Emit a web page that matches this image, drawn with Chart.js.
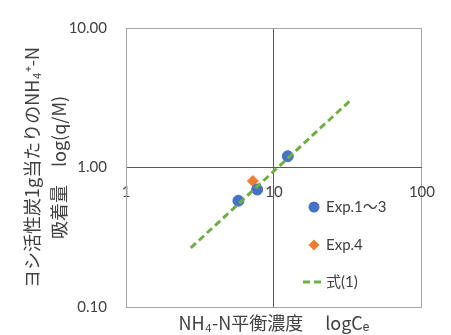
<!DOCTYPE html>
<html>
<head>
<meta charset="utf-8">
<script src="https://cdn.jsdelivr.net/npm/chart.js"></script>
<style>
  html, body { margin: 0; padding: 0; background: #fff; }
  #wrap { width: 451px; height: 335px; }
</style>
</head>
<body>
<div id="wrap"><canvas id="isoChart"></canvas></div>
<script>
// valeurs (log-log)
const expX = [5.75, 7.7, 12.4];
const expY = [0.578, 0.695, 1.205];
const exp4X = [7.2];
const exp4Y = [0.80];
const fitX = [2.74, 32.5];
const fitY = [0.265, 3.0];
const xTicks = [1, 10, 100];
const yTicks = [0.1, 1, 10];
const labels = ['Exp.1～3', 'Exp.4', '式(1)'];

const BOX = '#a6a6a6';
const CROSS = '#595959';
const TXT = '#404040';
const tickFont = { family: 'Lato, "Noto Sans CJK JP", sans-serif', size: 15 };
const titleFont = { family: '"Noto Sans CJK JP", sans-serif', size: 18 };

function pts(xs, ys) {
    return xs.map((x, i) => ({ x: x, y: ys[i] }));
}

// legende dessinee dans la zone du graphique
const insideLegend = {
    id: 'insideLegend',
    afterDraw(chart) {
        const ctx = chart.ctx;
        const rows = [207, 245, 282];
        const ds = chart.data.datasets;
        ctx.save();
        ds.forEach((d, i) => {
            const y = rows[i];
            if (d.showLine) {
                ctx.strokeStyle = d.borderColor;
                ctx.lineWidth = d.borderWidth;
                ctx.setLineDash(d.borderDash);
                ctx.beginPath();
                ctx.moveTo(303, y);
                ctx.lineTo(322, y);
                ctx.stroke();
                ctx.setLineDash([]);
            } else {
                ctx.fillStyle = d.backgroundColor;
                ctx.strokeStyle = d.borderColor;
                Chart.helpers.drawPoint(ctx, {
                    pointStyle: d.pointStyle,
                    radius: d.pointRadius,
                    rotation: 0,
                    borderWidth: 0
                }, 314, y);
            }
            ctx.fillStyle = TXT;
            ctx.font = '15px Lato, "Noto Sans CJK JP", sans-serif';
            ctx.textBaseline = 'middle';
            ctx.textAlign = 'left';
            ctx.fillText(d.label, 326, y);
        });
        ctx.restore();
    }
};

const ctx = document.getElementById('isoChart').getContext('2d');
new Chart(ctx, {
    type: 'scatter',
    data: {
        datasets: [
            {
                label: labels[0],
                data: pts(expX, expY),
                backgroundColor: '#4472C4',
                borderColor: '#4472C4',
                pointStyle: 'circle',
                pointRadius: 5.5,
                order: 2
            },
            {
                label: labels[1],
                data: pts(exp4X, exp4Y),
                backgroundColor: '#ED7D31',
                borderColor: '#ED7D31',
                pointStyle: 'rectRot',
                pointRadius: 5.5,
                order: 3
            },
            {
                label: labels[2],
                data: pts(fitX, fitY),
                showLine: true,
                borderColor: '#70AD47',
                backgroundColor: '#70AD47',
                borderWidth: 3,
                borderDash: [7, 4],
                pointRadius: 0,
                order: 1
            }
        ]
    },
    options: {
        responsive: true,
        maintainAspectRatio: false,
        animation: false,
        layout: { padding: { left: 0, right: 25, top: 19, bottom: 0 } },
        plugins: {
            legend: { display: false },
            tooltip: { enabled: false }
        },
        scales: {
            x: {
                type: 'logarithmic',
                position: 'bottom',
                min: 1,
                max: 100,
                afterBuildTicks: s => { s.ticks = xTicks.map(v => ({ value: v })); },
                afterFit: s => { s.height = 28; },
                ticks: { display: false },
                grid: {
                    drawTicks: false,
                    color: c => (c.tick && c.tick.value === 10 ? CROSS : BOX)
                },
                border: { color: BOX },
                title: {
                    display: true,
                    text: 'NH₄-N平衡濃度　 logCₑ',
                    color: TXT,
                    font: titleFont,
                    padding: { top: 0, bottom: 1 }
                }
            },
            xMid: {
                type: 'logarithmic',
                axis: 'x',
                position: { y: 1 },
                min: 1,
                max: 100,
                afterBuildTicks: s => { s.ticks = xTicks.map(v => ({ value: v })); },
                ticks: {
                    color: TXT,
                    font: tickFont,
                    padding: 16,
                    maxRotation: 0,
                    callback: v => String(v)
                },
                grid: { display: false, drawTicks: false },
                border: { display: false }
            },
            y: {
                type: 'logarithmic',
                position: 'left',
                min: 0.1,
                max: 10,
                afterBuildTicks: s => { s.ticks = yTicks.map(v => ({ value: v })); },
                afterFit: s => { s.width = 126; },
                ticks: {
                    color: TXT,
                    font: tickFont,
                    padding: 19,
                    callback: v => Number(v).toFixed(2)
                },
                grid: {
                    drawTicks: false,
                    color: c => (c.tick && c.tick.value === 1 ? CROSS : BOX)
                },
                border: { color: BOX },
                title: {
                    display: true,
                    text: ['ヨシ活性炭1g当たりのNH₄⁺-N', '吸着量　log(q/M)'],
                    color: TXT,
                    font: Object.assign({ lineHeight: 1.5 }, titleFont),
                    padding: { top: 19, bottom: 0 }
                }
            }
        }
    },
    plugins: [insideLegend]
});
</script>
</body>
</html>
